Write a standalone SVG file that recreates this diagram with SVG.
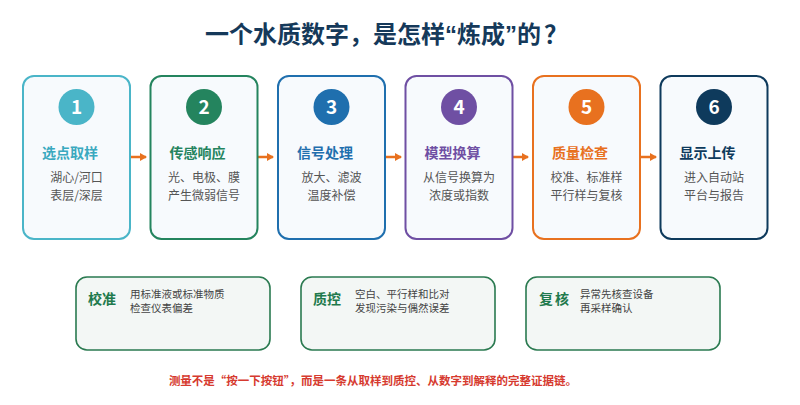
<svg xmlns="http://www.w3.org/2000/svg" width="800" height="405" viewBox="0 0 800 405">
<defs>
<style>
text{font-family:"Noto Sans CJK SC","Noto Sans",sans-serif}
.h{font-size:24px;font-weight:700;fill:#15395a}
.q{font-family:"Liberation Sans","Noto Sans",sans-serif}
.box{fill:#f7fafd;stroke-width:2}
.num{font-size:19px;font-weight:700;fill:#fff;text-anchor:middle}
.t{font-size:14px;font-weight:700}
.b{font-size:12px;fill:#555;text-anchor:middle}
.qb{fill:#f3f7f5;stroke:#2a7a50;stroke-width:1.6}
.ql{font-size:14px;font-weight:700;fill:#1f7a4d}
.qd{font-size:10.5px;fill:#444}
.con{stroke:#e8711f;stroke-width:2.5;fill:none}
.foot{font-size:11.5px;font-weight:700;fill:#d63a2f;text-anchor:middle}
</style>
<marker id="ah" markerWidth="8" markerHeight="8" refX="6" refY="4" orient="auto" markerUnits="userSpaceOnUse">
<path d="M0,0 L7,4 L0,8 Z" fill="#e8711f"/>
</marker>
</defs>
<rect width="800" height="405" fill="#fff"/>
<text class="h" x="205" y="43">一个水质数字，是怎样<tspan class="q">“</tspan>炼成<tspan class="q">”</tspan>的<tspan dx="3">？</tspan></text>

<g id="connectors">
<line class="con" x1="131" y1="157" x2="146" y2="157" marker-end="url(#ah)"/>
<line class="con" x1="258" y1="157" x2="273" y2="157" marker-end="url(#ah)"/>
<line class="con" x1="386" y1="157" x2="401" y2="157" marker-end="url(#ah)"/>
<line class="con" x1="513" y1="157" x2="528" y2="157" marker-end="url(#ah)"/>
<line class="con" x1="640" y1="157" x2="656" y2="157" marker-end="url(#ah)"/>
</g>

<g id="step1">
<rect class="box" x="23" y="76" width="107" height="163" rx="11" stroke="#4ab5c8"/>
<circle cx="76.5" cy="107" r="18" fill="#4ab5c8"/>
<text class="num" x="76.5" y="114">1</text>
<text class="t" x="42" y="158" fill="#3aa9bf">选点取样</text>
<text class="b" x="76.5" y="182">湖心/河口</text>
<text class="b" x="76.5" y="200">表层/深层</text>
</g>
<g id="step2">
<rect class="box" x="150.5" y="76" width="107" height="163" rx="11" stroke="#24845e"/>
<circle cx="204" cy="107" r="18" fill="#24845e"/>
<text class="num" x="204" y="114">2</text>
<text class="t" x="169.5" y="158" fill="#24845e">传感响应</text>
<text class="b" x="204" y="182">光、电极、膜</text>
<text class="b" x="204" y="200">产生微弱信号</text>
</g>
<g id="step3">
<rect class="box" x="278" y="76" width="107" height="163" rx="11" stroke="#1f6fae"/>
<circle cx="331.5" cy="107" r="18" fill="#1f6fae"/>
<text class="num" x="331.5" y="114">3</text>
<text class="t" x="297" y="158" fill="#1f6fae">信号处理</text>
<text class="b" x="331.5" y="182">放大、滤波</text>
<text class="b" x="331.5" y="200">温度补偿</text>
</g>
<g id="step4">
<rect class="box" x="405.5" y="76" width="107" height="163" rx="11" stroke="#6f4fa3"/>
<circle cx="459" cy="107" r="18" fill="#6f4fa3"/>
<text class="num" x="459" y="114">4</text>
<text class="t" x="424.5" y="158" fill="#6f4fa3">模型换算</text>
<text class="b" x="459" y="182">从信号换算为</text>
<text class="b" x="459" y="200">浓度或指数</text>
</g>
<g id="step5">
<rect class="box" x="533" y="76" width="107" height="163" rx="11" stroke="#e8711f"/>
<circle cx="586.5" cy="107" r="18" fill="#e8711f"/>
<text class="num" x="586.5" y="114">5</text>
<text class="t" x="552" y="158" fill="#e8711f">质量检查</text>
<text class="b" x="586.5" y="182">校准、标准样</text>
<text class="b" x="586.5" y="200">平行样与复核</text>
</g>
<g id="step6">
<rect class="box" x="660.5" y="76" width="107" height="163" rx="11" stroke="#0e3a5c"/>
<circle cx="714" cy="107" r="18" fill="#0e3a5c"/>
<text class="num" x="714" y="114">6</text>
<text class="t" x="679.5" y="158" fill="#0e3a5c">显示上传</text>
<text class="b" x="714" y="182">进入自动站</text>
<text class="b" x="714" y="200">平台与报告</text>
</g>

<g id="calib">
<rect class="qb" x="76" y="277" width="194" height="73" rx="11"/>
<text class="ql" x="88" y="304">校准</text>
<text class="qd" x="130" y="298">用标准液或标准物质</text>
<text class="qd" x="130" y="312">检查仪表偏差</text>
</g>
<g id="qc">
<rect class="qb" x="301" y="277" width="194" height="73" rx="11"/>
<text class="ql" x="313" y="304">质控</text>
<text class="qd" x="355" y="298">空白、平行样和比对</text>
<text class="qd" x="355" y="312">发现污染与偶然误差</text>
</g>
<g id="recheck">
<rect class="qb" x="526" y="277" width="194" height="73" rx="11"/>
<text class="ql" x="539" y="304" letter-spacing="2">复核</text>
<text class="qd" x="580" y="298">异常先核查设备</text>
<text class="qd" x="580" y="312">再采样确认</text>
</g>

<text class="foot" x="373" y="385">测量不是“按一下按钮”，而是一条从取样到质控、从数字到解释的完整证据链。</text>
</svg>
